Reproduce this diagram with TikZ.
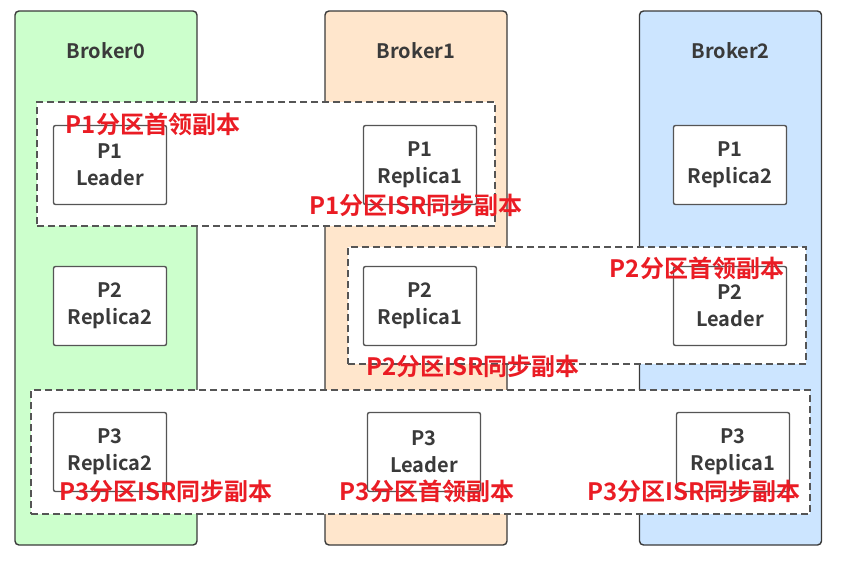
\documentclass[tikz,border=0pt]{standalone}
\usepackage{fontspec}
\usepackage{tikz}
\usetikzlibrary{positioning}
\setmainfont{Noto Sans CJK SC}[BoldFont={Noto Sans CJK SC Bold}]
\definecolor{bgreen}{HTML}{CCFFCC}
\definecolor{bpeach}{HTML}{FFE6CC}
\definecolor{bblue}{HTML}{CCE5FF}
\definecolor{lgray}{HTML}{3A3A3A}
\definecolor{mgray}{HTML}{555555}
\definecolor{tred}{HTML}{EA1C24}

\begin{document}
\begin{tikzpicture}[x=1pt,y=-1pt,node distance=310pt,semithick]
  \tikzstyle{broker}=[draw=lgray,line width=1.4pt,rounded corners=4pt,
                      minimum width=182pt,minimum height=534pt,inner sep=0pt]
  \tikzstyle{btitle}=[text=lgray,font=\fontsize{20}{22}\selectfont\bfseries]
  \tikzstyle{group}=[draw=mgray,fill=white,line width=1.8pt,dash pattern=on 7pt off 4pt,
                     inner sep=0pt]
  \tikzstyle{part}=[draw=mgray,fill=white,line width=1.4pt,rounded corners=2pt,
                    minimum width=113pt,minimum height=79pt,inner sep=0pt,align=center,
                    text=lgray,font=\fontsize{20}{27}\selectfont\bfseries]
  \tikzstyle{tag}=[text=tred,inner sep=0pt,font=\fontsize{24}{28}\selectfont\bfseries]
  \useasboundingbox (0,0) rectangle (845,562);

  \node[broker,fill=bgreen] (B0) at (106,278)   {};
  \node[broker,fill=bpeach] (B1) at (416,278)   {};
  \node[broker,fill=bblue]  (B2) at (730.5,278) {};
  \node[btitle] (B0t) at (106,51)   {Broker0};
  \node[btitle] (B1t) at (416,51)   {Broker1};
  \node[btitle] (B2t) at (730.5,51) {Broker2};

  \node[group,minimum width=458pt,minimum height=124pt] (G1) at (266,164)   {};
  \node[group,minimum width=458pt,minimum height=117pt] (G2) at (577,305.5) {};
  \node[group,minimum width=779pt,minimum height=124pt] (G3) at (420.5,452) {};

  \node[part]        (P1L)  at (110,165)         {P1\\Leader};
  \node[part]        (P1R1) [right of=P1L]       {P1\\Replica1};
  \node[part]        (P1R2) [right of=P1R1]      {P1\\Replica2};
  \node[part]        (P2R2) at (110,306)         {P2\\Replica2};
  \node[part]        (P2R1) [right of=P2R2]      {P2\\Replica1};
  \node[part]        (P2L)  [right of=P2R1]      {P2\\Leader};
  \node[part]        (P3R2) at (110,452)         {P3\\Replica2};
  \node[part]        (P3L)  at (424,452)         {P3\\Leader};
  \node[part]        (P3R1) at (733,452)         {P3\\Replica1};

  \node[tag] (T1L) at (153,124) {P1分区首领副本};
  \node[tag] (T1I) at (416,205) {P1分区ISR同步副本};
  \node[tag] (T2L) at (697,268) {P2分区首领副本};
  \node[tag] (T2I) at (473,366) {P2分区ISR同步副本};
  \node[tag] (T3a) at (166,491) {P3分区ISR同步副本};
  \node[tag] (T3L) at (427,491) {P3分区首领副本};
  \node[tag] (T3b) at (694,491) {P3分区ISR同步副本};
\end{tikzpicture}
\end{document}
